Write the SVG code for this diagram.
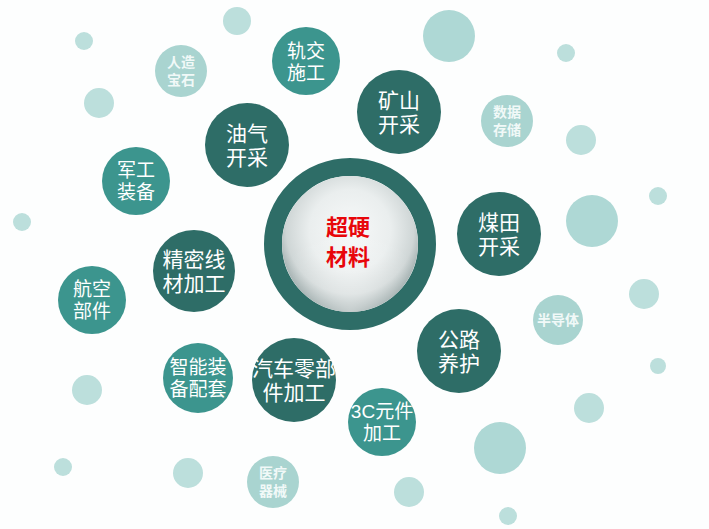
<svg xmlns="http://www.w3.org/2000/svg" width="709" height="529" viewBox="0 0 709 529">
  <defs>
    <radialGradient id="ball" cx="50%" cy="40%" r="60%">
      <stop offset="0" stop-color="#f7f9f9"/>
      <stop offset="0.5" stop-color="#eaeeee"/>
      <stop offset="0.78" stop-color="#cfd6d6"/>
      <stop offset="0.9" stop-color="#a9b5b5"/>
      <stop offset="1" stop-color="#8a9a9a"/>
    </radialGradient>
    <radialGradient id="shine" cx="50%" cy="100%" r="60%">
      <stop offset="0" stop-color="#ffffff" stop-opacity="0.5"/>
      <stop offset="1" stop-color="#ffffff" stop-opacity="0"/>
    </radialGradient>
    <style>
      text { font-family: "Liberation Sans", "Noto Sans CJK SC", sans-serif; text-anchor: middle; dominant-baseline: central; }
      .dark { fill: #2e6d67; }
      .mid { fill: #3c958e; }
      .lite { fill: #a9d4d0; }
      .dot { fill: #bcdfdc; }
      .dot2 { fill: #aed8d5; }
      .tdark { fill: #ffffff; font-size: 21px; }
      .tmid { fill: #ffffff; font-size: 19px; }
      .tlite { fill: #f1f9f8; font-size: 14px; font-weight: bold; }
      .tcore { fill: #e8060a; font-size: 22px; font-weight: bold; }
    </style>
  </defs>
  <rect width="709" height="529" fill="#fdfefe"/>

  <g id="decor">
    <circle class="dot" cx="237" cy="21" r="14"/>
    <circle class="dot" cx="84" cy="41" r="9"/>
    <circle class="dot2" cx="449" cy="36" r="26"/>
    <circle class="dot" cx="566" cy="53" r="9"/>
    <circle class="dot" cx="99" cy="103" r="15"/>
    <circle class="dot" cx="581" cy="140" r="15"/>
    <circle class="dot" cx="22" cy="222" r="9"/>
    <circle class="dot" cx="658" cy="196" r="9"/>
    <circle class="dot2" cx="592" cy="221" r="26"/>
    <circle class="dot" cx="644" cy="294" r="15"/>
    <circle class="dot" cx="658" cy="366" r="8"/>
    <circle class="dot" cx="87" cy="390" r="15"/>
    <circle class="dot" cx="589" cy="408" r="15"/>
    <circle class="dot2" cx="500" cy="448" r="26"/>
    <circle class="dot" cx="63" cy="467" r="9"/>
    <circle class="dot" cx="188" cy="473" r="15"/>
    <circle class="dot" cx="409" cy="492" r="15"/>
    <circle class="dot" cx="508" cy="516" r="9"/>
  </g>

  <g id="core">
    <circle cx="350" cy="244" r="77" fill="none" stroke="#2e6d67" stroke-width="18"/>
    <circle cx="350" cy="244" r="68" fill="url(#ball)"/>
    <circle cx="350" cy="244" r="68" fill="url(#shine)"/>
    <text class="tcore"><tspan x="348" y="227">超硬</tspan><tspan x="348" y="257">材料</tspan></text>
  </g>

  <g id="n-youqi">
    <circle class="dark" cx="247" cy="145" r="42"/>
    <text class="tdark"><tspan x="247" y="133">油气</tspan><tspan x="247" y="157">开采</tspan></text>
  </g>
  <g id="n-kuangshan">
    <circle class="dark" cx="399" cy="112" r="42"/>
    <text class="tdark"><tspan x="399" y="100">矿山</tspan><tspan x="399" y="124">开采</tspan></text>
  </g>
  <g id="n-meitian">
    <circle class="dark" cx="499" cy="234" r="42"/>
    <text class="tdark"><tspan x="499" y="222">煤田</tspan><tspan x="499" y="246">开采</tspan></text>
  </g>
  <g id="n-gonglu">
    <circle class="dark" cx="459" cy="351" r="42"/>
    <text class="tdark"><tspan x="459" y="339">公路</tspan><tspan x="459" y="363">养护</tspan></text>
  </g>
  <g id="n-qiche">
    <circle class="dark" cx="294" cy="380" r="42"/>
    <text class="tdark"><tspan x="294" y="368">汽车零部</tspan><tspan x="294" y="392">件加工</tspan></text>
  </g>
  <g id="n-jingmi">
    <circle class="dark" cx="194" cy="271" r="41"/>
    <text class="tdark"><tspan x="194" y="259">精密线</tspan><tspan x="194" y="283">材加工</tspan></text>
  </g>

  <g id="n-guijiao">
    <circle class="mid" cx="306" cy="61" r="34"/>
    <text class="tmid"><tspan x="306" y="51">轨交</tspan><tspan x="306" y="72.5">施工</tspan></text>
  </g>
  <g id="n-jungong">
    <circle class="mid" cx="136" cy="181" r="34"/>
    <text class="tmid"><tspan x="136" y="170">军工</tspan><tspan x="136" y="191.5">装备</tspan></text>
  </g>
  <g id="n-hangkong">
    <circle class="mid" cx="92" cy="300" r="34"/>
    <text class="tmid"><tspan x="92" y="289">航空</tspan><tspan x="92" y="310.5">部件</tspan></text>
  </g>
  <g id="n-zhineng">
    <circle class="mid" cx="198" cy="378" r="35"/>
    <text class="tmid"><tspan x="198" y="367">智能装</tspan><tspan x="198" y="388.5">备配套</tspan></text>
  </g>
  <g id="n-3c">
    <circle class="mid" cx="382" cy="422" r="34"/>
    <text class="tmid"><tspan x="382" y="411">3C元件</tspan><tspan x="382" y="432.5">加工</tspan></text>
  </g>

  <g id="n-renzao">
    <circle class="lite" cx="181" cy="71" r="26"/>
    <text class="tlite"><tspan x="181" y="62">人造</tspan><tspan x="181" y="80">宝石</tspan></text>
  </g>
  <g id="n-shuju">
    <circle class="lite" cx="507" cy="121" r="26"/>
    <text class="tlite"><tspan x="507" y="112">数据</tspan><tspan x="507" y="130">存储</tspan></text>
  </g>
  <g id="n-bandaoti">
    <circle class="lite" cx="558" cy="320" r="25"/>
    <text class="tlite" x="558" y="320">半导体</text>
  </g>
  <g id="n-yiliao">
    <circle class="lite" cx="273" cy="482" r="26"/>
    <text class="tlite"><tspan x="273" y="473">医疗</tspan><tspan x="273" y="491">器械</tspan></text>
  </g>
</svg>
